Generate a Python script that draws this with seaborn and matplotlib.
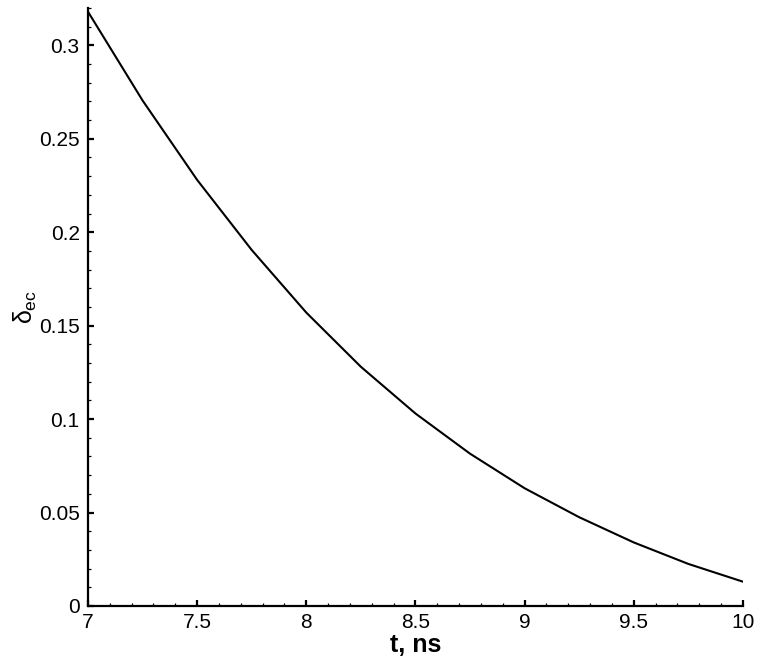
import numpy as np
import pandas as pd
import seaborn as sns
import matplotlib.pyplot as plt
from matplotlib.ticker import MultipleLocator

# values
t_ns = [7.0, 7.25, 7.5, 7.75, 8.0, 8.25, 8.5, 8.75, 9.0, 9.25, 9.5, 9.75, 10.0]
delta_ec = [0.318, 0.2705, 0.228, 0.1905, 0.157, 0.128, 0.103, 0.0815, 0.063, 0.0475, 0.034, 0.0225, 0.013]

x_ticks = [7, 7.5, 8, 8.5, 9, 9.5, 10]
x_ticklabels = ['7', '7.5', '8', '8.5', '9', '9.5', '10']
y_ticks = [0, 0.05, 0.1, 0.15, 0.2, 0.25, 0.3]
y_ticklabels = ['0', '0.05', '0.1', '0.15', '0.2', '0.25', '0.3']

sns.set_style('ticks')
plt.rcParams['font.family'] = ['Liberation Sans', 'DejaVu Sans']
plt.rcParams['mathtext.fontset'] = 'custom'
plt.rcParams['mathtext.rm'] = 'Liberation Sans'
plt.rcParams['mathtext.it'] = 'Liberation Sans'
plt.rcParams['mathtext.bf'] = 'Liberation Sans:bold'
plt.rcParams['text.color'] = 'black'
plt.rcParams['axes.labelcolor'] = 'black'
plt.rcParams['xtick.color'] = 'black'
plt.rcParams['ytick.color'] = 'black'

df = pd.DataFrame({'t': t_ns, 'delta': delta_ec})

fig = plt.figure(figsize=(7.58, 6.67), dpi=100)
ax = fig.add_axes([0.1161, 0.0915, 0.864, 0.8965])
sns.lineplot(data=df, x='t', y='delta', color='black', linewidth=1.5, ax=ax)

ax.set_xlim(7, 10)
ax.set_ylim(0, 0.32)
ax.set_xticks(x_ticks)
ax.set_xticklabels(x_ticklabels)
ax.set_yticks(y_ticks)
ax.set_yticklabels(y_ticklabels)
ax.xaxis.set_minor_locator(MultipleLocator(0.1))
ax.yaxis.set_minor_locator(MultipleLocator(0.01))

ax.tick_params(which='major', direction='in', length=4, width=1.6, labelsize=15,
               color='black', labelcolor='black')
ax.tick_params(which='minor', direction='in', length=2.3, width=0.9, color='black')
ax.tick_params(axis='x', pad=5)
ax.tick_params(axis='y', pad=6)

sns.despine(ax=ax)
for s in ['left', 'bottom']:
    ax.spines[s].set_linewidth(1.6)
    ax.spines[s].set_color('black')

ax.set_xlabel('t, ns', fontsize=18, fontweight='bold', labelpad=1, color='black')
ax.set_ylabel(r'$\delta_{\mathrm{ec}}$', fontsize=18, labelpad=0, color='black')

fig.savefig('out.png', dpi=100)
